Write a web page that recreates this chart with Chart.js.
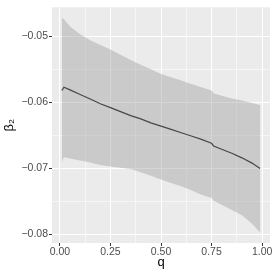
<!DOCTYPE html>
<html>
<head>
<meta charset="utf-8">
<script src="https://cdn.jsdelivr.net/npm/chart.js@4"></script>
<style>
    body { margin: 0; background: #ffffff; }
    canvas { display: block; }
</style>
</head>
<body>
<canvas id="chart" width="273" height="273"></canvas>
<script>
const qValues = [0.01, 0.02, 0.05, 0.10, 0.15, 0.20, 0.25, 0.30, 0.35, 0.40, 0.45, 0.50,
    0.55, 0.60, 0.65, 0.70, 0.75, 0.76, 0.80, 0.85, 0.90, 0.95, 0.99];
const estimate = [-0.0582, -0.0577, -0.0581, -0.0588, -0.0595, -0.0602, -0.0608, -0.0614,
    -0.0620, -0.0625, -0.0631, -0.0636, -0.0641, -0.0646, -0.0651, -0.0656, -0.0662,
    -0.0666, -0.0671, -0.0677, -0.0684, -0.0692, -0.0700];
const upperBound = [-0.0472, -0.0474, -0.0485, -0.0497, -0.0506, -0.0513, -0.0520, -0.0528,
    -0.0536, -0.0543, -0.0550, -0.0557, -0.0562, -0.0567, -0.0572, -0.0577, -0.0582,
    -0.0586, -0.0590, -0.0594, -0.0597, -0.0601, -0.0604];
const lowerBound = [-0.0690, -0.0683, -0.0685, -0.0688, -0.0691, -0.0695, -0.0697, -0.0699,
    -0.0701, -0.0706, -0.0711, -0.0717, -0.0722, -0.0727, -0.0733, -0.0740, -0.0745,
    -0.0749, -0.0755, -0.0763, -0.0771, -0.0784, -0.0797];

const xMajorTicks = [0, 0.25, 0.5, 0.75, 1];
const xMinorTicks = [0.125, 0.375, 0.625, 0.875];
const yMajorTicks = [-0.08, -0.07, -0.06, -0.05];
const yMinorTicks = [-0.075, -0.065, -0.055];

Chart.defaults.font.family = "'Liberation Sans', Arial, sans-serif";


function toPoints(values) {
    return qValues.map((q, i) => ({ x: q, y: values[i] }));
}


function isMajor(list, value) {
    return list.some(v => Math.abs(v - value) < 1e-9);
}


function setTicks(major, minor) {
    return function (scale) {
        scale.ticks = major.concat(minor).map(v => ({ value: v }));
    };
}


function gridColor(major) {
    return ctx => isMajor(major, ctx.tick.value) ? "#ffffff" : "rgba(255,255,255,0.55)";
}


function tickColor(major) {
    return ctx => isMajor(major, ctx.tick.value) ? "#333333" : "rgba(0,0,0,0)";
}


const panelBackground = {
    id: "panelBackground",
    beforeDraw(chart) {
        const area = chart.chartArea;
        const ctx = chart.ctx;
        ctx.save();
        ctx.fillStyle = "#ebebeb";
        ctx.fillRect(area.left, area.top, area.right - area.left, area.bottom - area.top);
        ctx.restore();
    }
};


new Chart(document.getElementById("chart"), {
    type: "line",
    data: {
        datasets: [
            {
                label: "upper",
                data: toPoints(upperBound),
                borderWidth: 0,
                pointRadius: 0,
                backgroundColor: "rgba(153,153,153,0.4)",
                fill: "+1"
            },
            {
                label: "lower",
                data: toPoints(lowerBound),
                borderWidth: 0,
                pointRadius: 0,
                fill: false
            },
            {
                label: "estimate",
                data: toPoints(estimate),
                borderColor: "#111111",
                borderWidth: 1.2,
                pointRadius: 0,
                fill: false
            }
        ]
    },
    options: {
        responsive: false,
        animation: false,
        layout: { padding: { top: 3, right: 3, left: 0, bottom: 0 } },
        plugins: {
            legend: { display: false },
            tooltip: { enabled: false }
        },
        scales: {
            x: {
                type: "linear",
                min: -0.039,
                max: 1.039,
                afterBuildTicks: setTicks(xMajorTicks, xMinorTicks),
                afterFit: scale => { scale.height = 30; },
                border: { display: false },
                grid: {
                    color: gridColor(xMajorTicks),
                    lineWidth: 1,
                    tickLength: 3,
                    tickColor: tickColor(xMajorTicks),
                    tickWidth: 1
                },
                ticks: {
                    padding: 0,
                    color: "#4d4d4d",
                    font: { size: 10.5 },
                    maxRotation: 0,
                    autoSkip: false,
                    callback: value => isMajor(xMajorTicks, value) ? value.toFixed(2) : ""
                },
                title: {
                    display: true,
                    text: "q",
                    color: "#000000",
                    font: { size: 13 },
                    padding: { top: 0, bottom: 3 }
                }
            },
            y: {
                min: -0.0813,
                max: -0.0456,
                afterBuildTicks: setTicks(yMajorTicks, yMinorTicks),
                afterFit: scale => { scale.width = 52; },
                border: { display: false },
                grid: {
                    color: gridColor(yMajorTicks),
                    lineWidth: 1,
                    tickLength: 3,
                    tickColor: tickColor(yMajorTicks),
                    tickWidth: 1
                },
                ticks: {
                    padding: 1,
                    color: "#4d4d4d",
                    font: { size: 10.5 },
                    autoSkip: false,
                    callback: value => isMajor(yMajorTicks, value) ? value.toFixed(2).replace("-", "\u2212") : ""
                },
                title: {
                    display: true,
                    text: "β₂",
                    color: "#000000",
                    font: { size: 13 },
                    padding: { top: 2, bottom: 0 }
                }
            }
        }
    },
    plugins: [panelBackground]
});
</script>
</body>
</html>
